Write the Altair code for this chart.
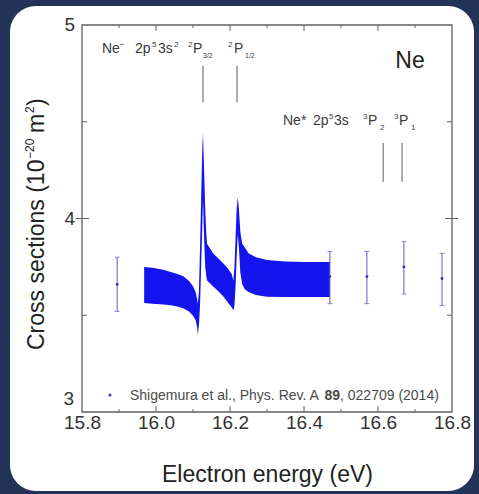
import altair as alt
import pandas as pd

FONT = "Liberation Sans"

# ---- dense scan (envelope of the many overlapping error bars) ----
band_x = [15.968, 15.99, 16.02, 16.04, 16.06, 16.075, 16.09, 16.10, 16.107, 16.111, 16.113,
          16.116, 16.119, 16.122, 16.125, 16.127, 16.130, 16.133, 16.136,
          16.138, 16.154, 16.165, 16.181, 16.195, 16.205, 16.209,
          16.212, 16.215, 16.218, 16.221, 16.224, 16.228, 16.233, 16.24, 16.25,
          16.27, 16.30, 16.35, 16.40, 16.44, 16.47]
band_lo = [3.563, 3.560, 3.556, 3.552, 3.544, 3.535, 3.518, 3.498, 3.475, 3.440, 3.398,
           3.45, 3.55, 3.75, 3.95, 4.10, 3.90, 3.75, 3.70,
           3.68, 3.65, 3.63, 3.60, 3.565, 3.54, 3.525,
           3.55, 3.65, 3.80, 3.92, 3.85, 3.72, 3.66, 3.635, 3.62,
           3.605, 3.595, 3.594, 3.594, 3.594, 3.594]
band_hi = [3.749, 3.745, 3.735, 3.724, 3.712, 3.700, 3.676, 3.650, 3.620, 3.585, 3.56,
           3.62, 3.85, 4.10, 4.35, 4.44, 4.25, 4.05, 3.92,
           3.87, 3.82, 3.80, 3.77, 3.74, 3.71, 3.68,
           3.75, 3.90, 4.05, 4.11, 4.05, 3.93, 3.87, 3.85, 3.82,
           3.80, 3.785, 3.778, 3.775, 3.775, 3.775]

# ---- sparse points with error bars ----
pt_x = [15.895, 16.47, 16.57, 16.67, 16.773]
pt_y = [3.66, 3.70, 3.70, 3.75, 3.69]
pt_lo = [3.52, 3.56, 3.56, 3.61, 3.55]
pt_hi = [3.80, 3.83, 3.83, 3.88, 3.82]

# ---- resonance position markers ----
neg_x = [16.127, 16.219]
neg_y0, neg_y1 = 4.60, 4.79
star_x = [16.614, 16.665]
star_y0, star_y1 = 4.19, 4.39

# ---- axis ticks ----
x_labels = [15.8, 16.0, 16.2, 16.4, 16.6, 16.8]
x_major = [16.0, 16.2, 16.4, 16.6]
x_minor = [15.9, 16.1, 16.3, 16.5, 16.7]
y_labels_mid = [4, 5]
y_labels_low = [3]
y_major = [4]
y_minor = [3.5, 4.5]

W, H = 370, 387
OX, OY = 82, 25
BLUE = "#1414ee"
EBAR = "#5a5ad0"
GRAY = "#3a3a3a"

xs = alt.Scale(domain=[15.8, 16.8], nice=False, zero=False)
ys = alt.Scale(domain=[3, 5], nice=False, zero=False)

xaxis = alt.Axis(values=x_labels, format=".1f", labelFontSize=19, labelPadding=1,
                 labelFlush=False, labelOverlap=False, labelColor="#333",
                 title="Electron energy (eV)",
                 titleFontSize=23, titleFontWeight="normal", titleColor="#222",
                 titleX=W / 2, titleY=69, titleAlign="center", titleBaseline="alphabetic",
                 ticks=False, domain=False, grid=False, zindex=1, labelFont=FONT, titleFont=FONT)
yaxis = alt.Axis(labels=False, title="", ticks=False, domain=False, grid=False, zindex=1)


def X(f):
    return alt.X(f, type="quantitative", scale=xs, axis=xaxis)


def Y(f):
    return alt.Y(f, type="quantitative", scale=ys, axis=yaxis)


one = pd.DataFrame({"a": [0]})

panel = alt.Chart(one).mark_rect(fill="white", cornerRadius=26).encode(
    x=alt.value(10 - OX), x2=alt.value(474 - OX), y=alt.value(6 - OY), y2=alt.value(491 - OY))

frame = alt.Chart(one).mark_rect(filled=False, stroke="#606060", strokeWidth=1.3).encode(
    x=alt.value(0), x2=alt.value(W), y=alt.value(0), y2=alt.value(H))

band_df = pd.DataFrame({"x": band_x, "lo": band_lo, "hi": band_hi})
band = alt.Chart(band_df).mark_area(color=BLUE, opacity=1).encode(
    x=X("x"), y=Y("lo"), y2="hi")

pt_df = pd.DataFrame({"x": pt_x, "y": pt_y, "lo": pt_lo, "hi": pt_hi})
ebar = alt.Chart(pt_df).mark_rule(color=EBAR, strokeWidth=1).encode(x=X("x"), y=Y("lo"), y2="hi")
cap_lo = alt.Chart(pt_df).mark_tick(color=EBAR, orient="horizontal", size=5, thickness=1).encode(
    x=X("x"), y=Y("lo"))
cap_hi = alt.Chart(pt_df).mark_tick(color=EBAR, orient="horizontal", size=5, thickness=1).encode(
    x=X("x"), y=Y("hi"))
dots = alt.Chart(pt_df).mark_circle(color="#3030b0", size=8, opacity=1).encode(x=X("x"), y=Y("y"))

mk_df = pd.DataFrame({"x": neg_x + star_x,
                      "y0": [neg_y0] * len(neg_x) + [star_y0] * len(star_x),
                      "y1": [neg_y1] * len(neg_x) + [star_y1] * len(star_x)})
markers = alt.Chart(mk_df).mark_rule(color="#777", strokeWidth=1.2).encode(
    x=X("x"), y=Y("y0"), y2="y1")

# inward ticks
tick_color = "#606060"
xM = pd.DataFrame({"x": x_major})
xm = pd.DataFrame({"x": x_minor})
yM = pd.DataFrame({"y": y_major})
ym = pd.DataFrame({"y": y_minor})
ticks = [
    alt.Chart(xM).mark_rule(color=tick_color).encode(x=X("x"), y=alt.value(H), y2=alt.value(H - 6)),
    alt.Chart(xm).mark_rule(color=tick_color).encode(x=X("x"), y=alt.value(H), y2=alt.value(H - 3)),
    alt.Chart(xM).mark_rule(color=tick_color).encode(x=X("x"), y=alt.value(0), y2=alt.value(6)),
    alt.Chart(xm).mark_rule(color=tick_color).encode(x=X("x"), y=alt.value(0), y2=alt.value(3)),
    alt.Chart(yM).mark_rule(color=tick_color).encode(y=Y("y"), x=alt.value(-6), x2=alt.value(7)),
    alt.Chart(ym).mark_rule(color=tick_color).encode(y=Y("y"), x=alt.value(0), x2=alt.value(5)),
    alt.Chart(yM).mark_rule(color=tick_color).encode(y=Y("y"), x=alt.value(W - 7), x2=alt.value(W + 6)),
    alt.Chart(ym).mark_rule(color=tick_color).encode(y=Y("y"), x=alt.value(W - 5), x2=alt.value(W)),
]

# y tick labels (3 sits raised above the corner, as in the original)
ylab_mid = alt.Chart(pd.DataFrame({"y": y_labels_mid})).mark_text(
    font=FONT, fontSize=19, color="#333", align="right", baseline="middle").encode(
    y=Y("y"), x=alt.value(-7), text=alt.Text("y:Q", format="d"))
ylab_low = alt.Chart(pd.DataFrame({"y": y_labels_low})).mark_text(
    font=FONT, fontSize=19, color="#333", align="right", baseline="alphabetic", dy=-7).encode(
    y=Y("y"), x=alt.value(-8), text=alt.Text("y:Q", format="d"))


def txt(s, x, y, size, color=GRAY, weight="normal", align="left", angle=0):
    return alt.Chart(one).mark_text(text=s, fontSize=size, font=FONT, color=color,
                                    fontWeight=weight, align=align, baseline="alphabetic",
                                    angle=angle).encode(
        x=alt.value(x - OX), y=alt.value(y - OY))


# rotated y-axis title, composed so that the exponents are real superscripts
TX = 44          # baseline x of the rotated title
SUP = TX - 10    # superscript baseline
ytitle = [
    txt("Cross sections (10", TX, 350, 23, color="#222", angle=270),
    txt("−20", SUP, 159, 12, color="#222", angle=270),
    txt("m", TX, 133, 23, color="#222", angle=270),
    txt("2", SUP, 113, 12, color="#222", angle=270),
    txt(")", TX, 106, 23, color="#222", angle=270),
]

texts = [
    # Ne- 2p5 3s2 2P3/2  2P1/2
    txt("Ne", 102, 53, 14), txt("−", 119, 47, 9), txt("2p", 135, 53, 14), txt("5", 152, 47, 8),
    txt("3s", 158, 53, 14), txt("2", 174, 47, 8), txt("2", 188, 47, 8), txt("P", 193, 53, 14),
    txt("3/2", 203, 58, 7), txt("2", 228, 47, 8), txt("P", 234, 53, 14), txt("1/2", 245, 58, 7),
    # Ne* 2p5 3s 3P2 3P1
    txt("Ne*", 283, 125, 14), txt("2p", 313, 125, 14), txt("5", 329, 119, 8), txt("3s", 334, 125, 14),
    txt("3", 363, 119, 8), txt("P", 368, 125, 14), txt("2", 380, 130, 8),
    txt("3", 394, 119, 8), txt("P", 399, 125, 14), txt("1", 411, 130, 8),
    # element label
    txt("Ne", 410, 68, 23, color="#222", align="center"),
    # legend
    txt("Shigemura et al., Phys. Rev. A ", 130, 400, 14, color="#4a4a4a"),
    txt("89", 324.5, 400, 14, color="#4a4a4a", weight="bold"),
    txt(", 022709 (2014)", 340, 400, 14, color="#4a4a4a"),
]

leg_dot = alt.Chart(one).mark_circle(color="#4040c0", size=10, opacity=1).encode(
    x=alt.value(110 - OX), y=alt.value(395 - OY))

chart = alt.layer(panel, band, ebar, cap_lo, cap_hi, dots, markers, frame, *ticks,
                  ylab_mid, ylab_low, *texts, *ytitle, leg_dot).properties(
    width=W, height=H,
    padding={"left": OX, "top": OY, "right": 479 - OX - W, "bottom": 494 - OY - H},
    autosize=alt.AutoSizeParams(type="none"),
    background="#233257",
).configure_view(stroke=None)

chart.save("out.html", embed_options={"renderer": "svg", "actions": False})
